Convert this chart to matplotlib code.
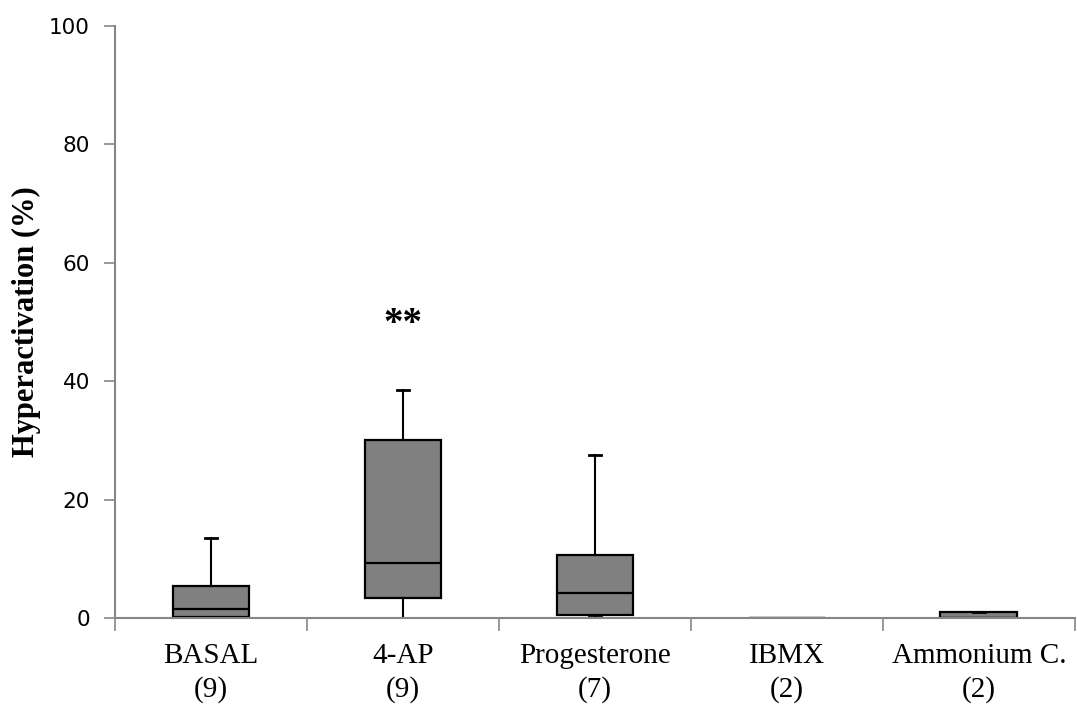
import matplotlib
matplotlib.use("Agg")
import matplotlib.pyplot as plt

categories = ["BASAL\n(9)", "4-AP\n(9)", "Progesterone\n(7)", "IBMX\n(2)", "Ammonium C.\n(2)"]
whislo = [0.0, 0.0, 0.1, 0.0, 0.0]
q1 = [0.2, 3.3, 0.55, 0.0, 0.0]
med = [1.55, 9.3, 4.2, 0.0, 0.0]
q3 = [5.4, 30.1, 10.7, 0.0, 1.05]
whishi = [13.5, 38.5, 27.6, 0.0, 1.05]
yticks = [0, 20, 40, 60, 80, 100]
sig_label = "**"
sig_value = 49.5
sig_index = 1

fig = plt.figure(figsize=(10.77, 7.08), dpi=100)
ax = fig.add_axes([0.1068, 0.1271, 0.8912, 0.8362])

stats = []
for i, c in enumerate(categories):
    stats.append(dict(label=c, whislo=whislo[i], q1=q1[i], med=med[i],
                      q3=q3[i], whishi=whishi[i], fliers=[]))

positions = list(range(1, len(categories) + 1))
ax.bxp(stats, positions=positions, widths=0.4, patch_artist=True,
       showfliers=False, capwidths=0.065,
       boxprops=dict(facecolor="#808080", edgecolor="black", linewidth=1.6),
       medianprops=dict(color="black", linewidth=1.6),
       whiskerprops=dict(color="black", linewidth=1.5),
       capprops=dict(color="black", linewidth=2.0))

ax.set_xlim(0.5, len(categories) + 0.5)
ax.set_ylim(0, 100)
ax.set_yticks(yticks)
ax.set_yticklabels([str(v) for v in yticks], fontsize=15.5, family="DejaVu Sans")

ax.set_xticks([p - 0.5 for p in positions] + [positions[-1] + 0.5])
ax.set_xticklabels([])
ax.set_xticks(positions, minor=True)
ax.set_xticklabels(categories, minor=True, fontsize=21, family="Liberation Serif",
                   linespacing=1.35)
ax.tick_params(axis="x", which="minor", length=0, pad=18)
ax.tick_params(axis="x", which="major", length=9, color="#868686", width=1.2)
ax.tick_params(axis="y", length=8, color="#868686", width=1.2, pad=10)

for s in ["top", "right"]:
    ax.spines[s].set_visible(False)
for s in ["left", "bottom"]:
    ax.spines[s].set_color("#868686")
    ax.spines[s].set_linewidth(1.5)

ax.set_ylabel("Hyperactivation (%)", fontsize=22, family="Liberation Serif",
              fontweight="bold", labelpad=6)

ax.text(positions[sig_index], sig_value, sig_label, ha="center", va="center",
        fontsize=28, fontweight="bold", family="Liberation Serif")

fig.savefig("out.png", dpi=100)
